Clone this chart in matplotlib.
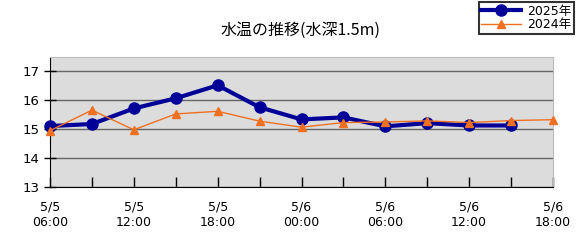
import matplotlib
matplotlib.use("Agg")
import matplotlib.pyplot as plt

# 3-hour steps from 5/5 06:00 to 5/6 18:00
hours = list(range(0, 37, 3))
tick_labels = ["5/5\n06:00", "5/5\n12:00", "5/5\n18:00", "5/6\n00:00", "5/6\n06:00", "5/6\n12:00", "5/6\n18:00"]
temp_2025 = [15.11, 15.18, 15.72, 16.07, 16.52, 15.76, 15.34, 15.41, 15.10, 15.21, 15.13, 15.13]
temp_2024 = [14.95, 15.66, 14.98, 15.53, 15.62, 15.28, 15.07, 15.23, 15.25, 15.29, 15.23, 15.30, 15.33]

plt.rcParams["font.family"] = ["Noto Sans CJK JP", "DejaVu Sans"]

fig = plt.figure(figsize=(5.81, 2.45), dpi=100)
ax = fig.add_axes([50 / 581, 1 - 187 / 245, 503 / 581, 130 / 245])
ax.set_facecolor("#dcdcdc")

ax.plot(hours[:len(temp_2025)], temp_2025, "-o", color="#000099", lw=3, ms=8,
        label="2025年", zorder=3, clip_on=False)
ax.plot(hours, temp_2024, "-^", color="#f07020", lw=1, ms=6,
        label="2024年", zorder=4, clip_on=False)

ax.set_xlim(0, 36)
ax.set_ylim(13, 17.5)
ax.set_yticks([13, 14, 15, 16, 17])
ax.set_xticks(hours[::2])
ax.set_xticklabels(tick_labels, fontsize=9, family="DejaVu Sans", linespacing=1.25)
ax.set_xticks(hours, minor=True)
ax.tick_params(axis="y", labelsize=9.5, direction="inout", length=8, width=1)
ax.tick_params(axis="x", which="both", direction="in", length=7, width=1, pad=10)
for lab in ax.get_yticklabels():
    lab.set_family("DejaVu Sans")
ax.grid(axis="y", color="#666666", lw=1)
ax.set_axisbelow(True)

for s in ("top", "right"):
    ax.spines[s].set_color("#bbbbbb")
ax.spines["left"].set_color("black")
ax.spines["bottom"].set_color("black")

fig.text(0.518, 1 - 30 / 245, "水温の推移(水深1.5m)", ha="center", va="center", fontsize=11.5)

leg = fig.legend(loc="upper right", bbox_to_anchor=(574 / 581, 1 - 2 / 245),
                 prop={"family": ["DejaVu Sans", "Noto Sans CJK JP"], "size": 9},
                 frameon=True, fancybox=False, borderpad=0.2, labelspacing=0.05,
                 handlelength=3.2, handletextpad=0.5, borderaxespad=0)
leg.get_frame().set_edgecolor("black")
leg.get_frame().set_linewidth(1.5)

fig.savefig("out.png", dpi=100)
